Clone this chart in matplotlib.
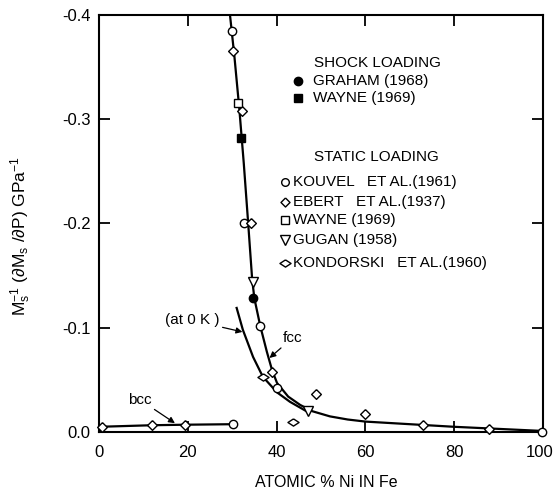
import matplotlib
matplotlib.use('Agg')
import matplotlib.pyplot as plt
from matplotlib.transforms import ScaledTranslation

plt.rcParams['font.family'] = ['Liberation Sans Narrow', 'Liberation Sans', 'DejaVu Sans']
plt.rcParams['mathtext.default'] = 'regular'

fcc_x = [29.5, 30.5, 31.6, 32.6, 33.6, 34.5, 35.0, 36.3, 37.8, 39.0, 40.1, 42.6, 45.3, 48.0, 52.0, 56.0, 60.0, 70.0, 80.0, 90.0, 100.0]
fcc_y = [-0.400, -0.360, -0.310, -0.258, -0.200, -0.146, -0.128, -0.102, -0.077, -0.059, -0.047, -0.034, -0.026, -0.020, -0.015, -0.012, -0.010, -0.0075, -0.005, -0.003, -0.001]
ok_x = [31.0, 32.4, 34.7, 36.9, 40.1, 43.0, 47.1]
ok_y = [-0.119, -0.098, -0.072, -0.053, -0.038, -0.029, -0.019]
bcc_x = [0.0, 11.9, 19.4, 30.2]
bcc_y = [-0.005, -0.0065, -0.007, -0.0075]

# shock loading
graham_x = [34.7]
graham_y = [-0.129]
wayne_shock_x = [32.0]
wayne_shock_y = [-0.282]

# static loading
kouvel_x = [30.0, 32.7, 36.3, 40.0, 30.2, 99.8]
kouvel_y = [-0.385, -0.200, -0.102, -0.042, -0.0075, 0.0]
ebert_x = [30.2, 32.2, 34.2, 39.0, 0.6, 11.9, 19.4, 48.9, 59.9, 73.0, 87.8]
ebert_y = [-0.365, -0.308, -0.200, -0.058, -0.005, -0.0068, -0.0072, -0.036, -0.017, -0.007, -0.003]
wayne_static_x = [31.3]
wayne_static_y = [-0.316]
gugan_x = [34.7, 47.1]
gugan_y = [-0.144, -0.020]
kondorski_x = [37.0, 43.8]
kondorski_y = [-0.053, -0.010]

xticks = [0, 20, 40, 60, 80, 100]
yticks = [-0.4, -0.3, -0.2, -0.1, 0.0]
ytick_labels = ['-0.4', '-0.3', '-0.2', '-0.1', '0.0']

diamond = [(0, 1), (1, 0), (0, -1), (-1, 0), (0, 1)]
wide_diamond = [(0, 0.65), (1, 0), (0, -0.65), (-1, 0), (0, 0.65)]

fig = plt.figure(figsize=(5.54, 4.93), dpi=100)
ax = fig.add_axes([0.1787, 0.1237, 0.8015, 0.846])

ax.plot(fcc_x, fcc_y, color='black', lw=1.6, zorder=2)
ax.plot(ok_x, ok_y, color='black', lw=1.6, zorder=2)
ax.plot(bcc_x, bcc_y, color='black', lw=1.6, zorder=2)

open_kw = dict(ls='none', mfc='white', mec='black', mew=1.0, zorder=3, clip_on=False)
ax.plot(kouvel_x, kouvel_y, marker='o', ms=6, **open_kw)
ax.plot(ebert_x, ebert_y, marker=diamond, ms=7, **open_kw)
ax.plot(wayne_static_x, wayne_static_y, marker='s', ms=6, **open_kw)
ax.plot(gugan_x, gugan_y, marker='v', ms=7, **open_kw)
ax.plot(kondorski_x, kondorski_y, marker=wide_diamond, ms=8, **open_kw)
ax.plot(graham_x, graham_y, marker='o', ms=6, ls='none', color='black', zorder=4)
ax.plot(wayne_shock_x, wayne_shock_y, marker='s', ms=6, ls='none', color='black', zorder=4)

ax.set_xlim(0, 100)
ax.set_ylim(0.0, -0.4)
ax.set_xticks(xticks)
ax.set_yticks(yticks)
ax.set_yticklabels(ytick_labels)
ax.tick_params(direction='in', length=8, width=1.3, top=True, right=True,
               labelsize=12, pad=6)
ax.tick_params(axis='x', pad=9)
for s in ax.spines.values():
    s.set_linewidth(1.5)

# keep the "100" inside the canvas
last = ax.get_xticklabels()[-1]
last.set_transform(last.get_transform() + ScaledTranslation(-3 / 100, 0, fig.dpi_scale_trans))

ax.set_xlabel('ATOMIC % Ni IN Fe', fontsize=11.5, labelpad=9)
ax.xaxis.set_label_coords(0.513, -0.103)
ax.set_ylabel(r'M$_s^{-1}$ (∂M$_s$ /∂P) GPa$^{-1}$', fontsize=12.5)
ax.yaxis.set_label_coords(-0.148, 0.47)

# key
fs = 11
ax.text(48.4, -0.354, 'SHOCK LOADING', fontsize=fs, va='center')
ax.plot([44.8], [-0.337], marker='o', ms=6, color='black')
ax.text(48.2, -0.337, 'GRAHAM (1968)', fontsize=fs, va='center')
ax.plot([44.8], [-0.320], marker='s', ms=6, color='black')
ax.text(48.2, -0.320, 'WAYNE (1969)', fontsize=fs, va='center')
ax.text(48.4, -0.264, 'STATIC LOADING', fontsize=fs, va='center')
key_kw = dict(ls='none', mfc='white', mec='black', mew=1.0)
static_keys = [('o', 5.5, 'KOUVEL   ET AL.(1961)', -0.240),
               (diamond, 6.5, 'EBERT   ET AL.(1937)', -0.221),
               ('s', 5.5, 'WAYNE (1969)', -0.203),
               ('v', 6.5, 'GUGAN (1958)', -0.184),
               (wide_diamond, 8, 'KONDORSKI   ET AL.(1960)', -0.162)]
for m, ms, label, y in static_keys:
    ax.plot([41.9], [y], marker=m, ms=ms, **key_kw)
    ax.text(43.8, y, label, fontsize=fs, va='center')

arrow = dict(arrowstyle='-|>', color='black', lw=0.9, shrinkA=0, shrinkB=0, mutation_scale=9)
ax.annotate('(at 0 K )', xy=(32.3, -0.096), xytext=(27.2, -0.107),
            ha='right', va='center', fontsize=fs, arrowprops=arrow)
ax.annotate('fcc', xy=(38.4, -0.071), xytext=(41.3, -0.090),
            ha='left', va='center', fontsize=fs, arrowprops=arrow)
ax.annotate('bcc', xy=(17.1, -0.0085), xytext=(9.2, -0.031),
            ha='center', va='center', fontsize=fs, arrowprops=arrow)

fig.savefig('out.png', dpi=100)
